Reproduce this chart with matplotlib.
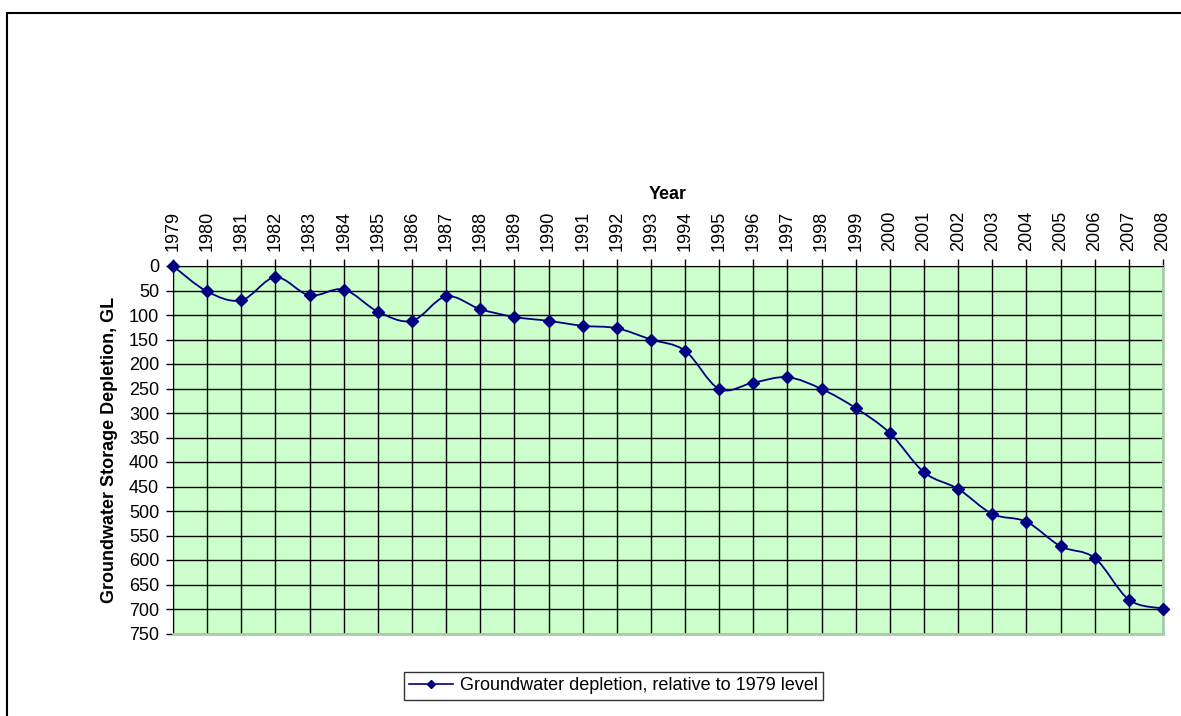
import numpy as np
import matplotlib
matplotlib.use("Agg")
import matplotlib.pyplot as plt
from matplotlib.path import Path
from matplotlib.patches import PathPatch, Rectangle

years = list(range(1979, 2009))
depletion = [0, 52, 70, 23, 60, 48, 93, 112, 62, 88,
             104, 112, 122, 127, 150, 173, 251, 238, 227, 251,
             290, 341, 421, 455, 506, 522, 572, 596, 681, 699]
y_ticks = list(range(0, 751, 50))
series_label = "Groundwater depletion, relative to 1979 level"

LINE = "#000080"
BG = "#CCFFCC"
FS = 13


def smooth_path(x, y, t=1.0 / 6):
    # Bezier path through the points, like Excel's smoothed line
    x = np.asarray(x, float)
    y = np.asarray(y, float)
    verts = [(x[0], y[0])]
    codes = [Path.MOVETO]
    n = len(x)
    for i in range(n - 1):
        p0 = (x[max(i - 1, 0)], y[max(i - 1, 0)])
        p1 = (x[i], y[i])
        p2 = (x[i + 1], y[i + 1])
        p3 = (x[min(i + 2, n - 1)], y[min(i + 2, n - 1)])
        c1 = (p1[0] + (p2[0] - p0[0]) * t, p1[1] + (p2[1] - p0[1]) * t)
        c2 = (p2[0] - (p3[0] - p1[0]) * t, p2[1] - (p3[1] - p1[1]) * t)
        verts += [c1, c2, p2]
        codes += [Path.CURVE4] * 3
    return Path(verts, codes)


plt.rcParams['font.family'] = ['Liberation Sans', 'DejaVu Sans']

fig = plt.figure(figsize=(11.81, 7.16), dpi=100)
fig.patches.append(Rectangle((7 / 1181, -0.1), 1.2, 1.1 - 13 / 716, transform=fig.transFigure,
                             fill=False, edgecolor="black", linewidth=1.5, zorder=0))

ax = fig.add_axes([173 / 1181, 1 - 633.5 / 716, (1163 - 173) / 1181, (633.5 - 266) / 716])
ax.set_facecolor(BG)

ax.add_patch(PathPatch(smooth_path(years, depletion), facecolor="none",
                       edgecolor=LINE, linewidth=1.3, zorder=3, clip_on=False))
ax.plot(years, depletion, linestyle="none", marker="D", markersize=6,
        color=LINE, zorder=4, clip_on=False)

ax.set_xlim(1979, 2008)
ax.set_ylim(750, 0)
ax.set_xticks(years)
ax.set_xticklabels([str(v) for v in years], rotation=90, fontsize=FS)
ax.set_yticks(y_ticks)
ax.set_yticklabels([str(v) for v in y_ticks], fontsize=FS)
ax.xaxis.tick_top()
ax.xaxis.set_label_position("top")
ax.set_xlabel("Year", fontsize=FS, fontweight="bold", labelpad=8)
ax.set_ylabel("Groundwater Storage Depletion, GL", fontsize=FS, fontweight="bold", labelpad=8)
ax.tick_params(axis="x", direction="out", length=5, width=1, pad=6)
ax.tick_params(axis="y", direction="out", length=5, width=1, pad=5)

ax.grid(True, color="black", linewidth=1)
ax.set_axisbelow(True)
for side in ["left", "top"]:
    ax.spines[side].set_color("black")
for side in ["right", "bottom"]:
    ax.spines[side].set_color("#AACCAA")
    ax.spines[side].set_linewidth(2)

leg = fig.legend([ax.lines[0]], [series_label], loc="center",
                 bbox_to_anchor=(613.5 / 1181, 1 - 686 / 716), fontsize=FS,
                 frameon=True, fancybox=False, edgecolor="black",
                 handlelength=2.4, handletextpad=0.4, borderpad=0.3, borderaxespad=0)
leg.legend_handles[0].set_linestyle("-")
leg.legend_handles[0].set_linewidth(1.2)
leg.legend_handles[0].set_markersize(4.5)
leg.get_frame().set_linewidth(1)

fig.savefig("out.png", dpi=100)
